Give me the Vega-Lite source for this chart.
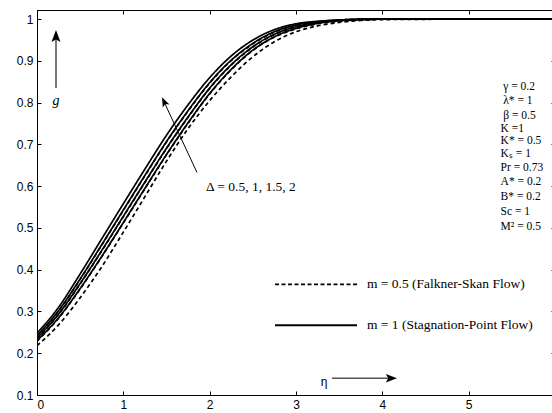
{
  "$schema": "https://vega.github.io/schema/vega-lite/v6.json",
  "width": 518,
  "height": 385,
  "autosize": {"type": "none"},
  "padding": {"left": 37, "top": 10, "right": 0, "bottom": 18},
  "background": "white",
  "config": {
    "view": {"stroke": "black", "strokeWidth": 1},
    "axis": {"domainColor": "black", "tickColor": "black", "labelColor": "black", "labelFont": "Liberation Sans", "labelFontSize": 12, "grid": false, "title": null, "tickSize": -4, "labelPadding": 8}
  },
  "datasets": {
    "curves": [
      {"eta":0,"g":0.230,"delta":"0.5","m":"1"},{"eta":0.25,"g":0.285,"delta":"0.5","m":"1"},{"eta":0.5,"g":0.355,"delta":"0.5","m":"1"},{"eta":0.75,"g":0.432,"delta":"0.5","m":"1"},{"eta":1,"g":0.513,"delta":"0.5","m":"1"},{"eta":1.25,"g":0.595,"delta":"0.5","m":"1"},{"eta":1.5,"g":0.676,"delta":"0.5","m":"1"},{"eta":1.75,"g":0.752,"delta":"0.5","m":"1"},{"eta":2,"g":0.822,"delta":"0.5","m":"1"},{"eta":2.25,"g":0.880,"delta":"0.5","m":"1"},{"eta":2.5,"g":0.926,"delta":"0.5","m":"1"},{"eta":2.75,"g":0.958,"delta":"0.5","m":"1"},{"eta":3,"g":0.978,"delta":"0.5","m":"1"},{"eta":3.25,"g":0.990,"delta":"0.5","m":"1"},{"eta":3.5,"g":0.996,"delta":"0.5","m":"1"},{"eta":3.75,"g":0.999,"delta":"0.5","m":"1"},{"eta":4,"g":1.0,"delta":"0.5","m":"1"},{"eta":5,"g":1.0,"delta":"0.5","m":"1"},{"eta":6,"g":1.0,"delta":"0.5","m":"1"},
      {"eta":0,"g":0.236,"delta":"1","m":"1"},{"eta":0.25,"g":0.294,"delta":"1","m":"1"},{"eta":0.5,"g":0.367,"delta":"1","m":"1"},{"eta":0.75,"g":0.446,"delta":"1","m":"1"},{"eta":1,"g":0.528,"delta":"1","m":"1"},{"eta":1.25,"g":0.610,"delta":"1","m":"1"},{"eta":1.5,"g":0.691,"delta":"1","m":"1"},{"eta":1.75,"g":0.766,"delta":"1","m":"1"},{"eta":2,"g":0.835,"delta":"1","m":"1"},{"eta":2.25,"g":0.891,"delta":"1","m":"1"},{"eta":2.5,"g":0.934,"delta":"1","m":"1"},{"eta":2.75,"g":0.964,"delta":"1","m":"1"},{"eta":3,"g":0.982,"delta":"1","m":"1"},{"eta":3.25,"g":0.992,"delta":"1","m":"1"},{"eta":3.5,"g":0.997,"delta":"1","m":"1"},{"eta":3.75,"g":0.999,"delta":"1","m":"1"},{"eta":4,"g":1.0,"delta":"1","m":"1"},{"eta":5,"g":1.0,"delta":"1","m":"1"},{"eta":6,"g":1.0,"delta":"1","m":"1"},
      {"eta":0,"g":0.242,"delta":"1.5","m":"1"},{"eta":0.25,"g":0.302,"delta":"1.5","m":"1"},{"eta":0.5,"g":0.378,"delta":"1.5","m":"1"},{"eta":0.75,"g":0.460,"delta":"1.5","m":"1"},{"eta":1,"g":0.543,"delta":"1.5","m":"1"},{"eta":1.25,"g":0.626,"delta":"1.5","m":"1"},{"eta":1.5,"g":0.707,"delta":"1.5","m":"1"},{"eta":1.75,"g":0.781,"delta":"1.5","m":"1"},{"eta":2,"g":0.848,"delta":"1.5","m":"1"},{"eta":2.25,"g":0.902,"delta":"1.5","m":"1"},{"eta":2.5,"g":0.942,"delta":"1.5","m":"1"},{"eta":2.75,"g":0.970,"delta":"1.5","m":"1"},{"eta":3,"g":0.986,"delta":"1.5","m":"1"},{"eta":3.25,"g":0.994,"delta":"1.5","m":"1"},{"eta":3.5,"g":0.998,"delta":"1.5","m":"1"},{"eta":3.75,"g":1.0,"delta":"1.5","m":"1"},{"eta":4,"g":1.0,"delta":"1.5","m":"1"},{"eta":5,"g":1.0,"delta":"1.5","m":"1"},{"eta":6,"g":1.0,"delta":"1.5","m":"1"},
      {"eta":0,"g":0.248,"delta":"2","m":"1"},{"eta":0.25,"g":0.310,"delta":"2","m":"1"},{"eta":0.5,"g":0.390,"delta":"2","m":"1"},{"eta":0.75,"g":0.474,"delta":"2","m":"1"},{"eta":1,"g":0.558,"delta":"2","m":"1"},{"eta":1.25,"g":0.641,"delta":"2","m":"1"},{"eta":1.5,"g":0.722,"delta":"2","m":"1"},{"eta":1.75,"g":0.795,"delta":"2","m":"1"},{"eta":2,"g":0.860,"delta":"2","m":"1"},{"eta":2.25,"g":0.912,"delta":"2","m":"1"},{"eta":2.5,"g":0.950,"delta":"2","m":"1"},{"eta":2.75,"g":0.975,"delta":"2","m":"1"},{"eta":3,"g":0.989,"delta":"2","m":"1"},{"eta":3.25,"g":0.995,"delta":"2","m":"1"},{"eta":3.5,"g":0.998,"delta":"2","m":"1"},{"eta":3.75,"g":1.0,"delta":"2","m":"1"},{"eta":4,"g":1.0,"delta":"2","m":"1"},{"eta":5,"g":1.0,"delta":"2","m":"1"},{"eta":6,"g":1.0,"delta":"2","m":"1"},
      {"eta":0,"g":0.218,"delta":"0.5","m":"0.5"},{"eta":0.25,"g":0.268,"delta":"0.5","m":"0.5"},{"eta":0.5,"g":0.333,"delta":"0.5","m":"0.5"},{"eta":0.75,"g":0.407,"delta":"0.5","m":"0.5"},{"eta":1,"g":0.490,"delta":"0.5","m":"0.5"},{"eta":1.25,"g":0.575,"delta":"0.5","m":"0.5"},{"eta":1.5,"g":0.660,"delta":"0.5","m":"0.5"},{"eta":1.75,"g":0.738,"delta":"0.5","m":"0.5"},{"eta":2,"g":0.805,"delta":"0.5","m":"0.5"},{"eta":2.25,"g":0.862,"delta":"0.5","m":"0.5"},{"eta":2.5,"g":0.910,"delta":"0.5","m":"0.5"},{"eta":2.75,"g":0.946,"delta":"0.5","m":"0.5"},{"eta":3,"g":0.970,"delta":"0.5","m":"0.5"},{"eta":3.25,"g":0.984,"delta":"0.5","m":"0.5"},{"eta":3.5,"g":0.992,"delta":"0.5","m":"0.5"},{"eta":3.75,"g":0.997,"delta":"0.5","m":"0.5"},{"eta":4,"g":0.999,"delta":"0.5","m":"0.5"},{"eta":5,"g":1.0,"delta":"0.5","m":"0.5"},{"eta":6,"g":1.0,"delta":"0.5","m":"0.5"},
      {"eta":0,"g":0.229,"delta":"1","m":"0.5"},{"eta":0.25,"g":0.284,"delta":"1","m":"0.5"},{"eta":0.5,"g":0.354,"delta":"1","m":"0.5"},{"eta":0.75,"g":0.431,"delta":"1","m":"0.5"},{"eta":1,"g":0.512,"delta":"1","m":"0.5"},{"eta":1.25,"g":0.594,"delta":"1","m":"0.5"},{"eta":1.5,"g":0.675,"delta":"1","m":"0.5"},{"eta":1.75,"g":0.751,"delta":"1","m":"0.5"},{"eta":2,"g":0.821,"delta":"1","m":"0.5"},{"eta":2.25,"g":0.879,"delta":"1","m":"0.5"},{"eta":2.5,"g":0.925,"delta":"1","m":"0.5"},{"eta":2.75,"g":0.957,"delta":"1","m":"0.5"},{"eta":3,"g":0.977,"delta":"1","m":"0.5"},{"eta":3.25,"g":0.989,"delta":"1","m":"0.5"},{"eta":3.5,"g":0.995,"delta":"1","m":"0.5"},{"eta":3.75,"g":0.998,"delta":"1","m":"0.5"},{"eta":4,"g":1.0,"delta":"1","m":"0.5"},{"eta":5,"g":1.0,"delta":"1","m":"0.5"},{"eta":6,"g":1.0,"delta":"1","m":"0.5"},
      {"eta":0,"g":0.235,"delta":"1.5","m":"0.5"},{"eta":0.25,"g":0.293,"delta":"1.5","m":"0.5"},{"eta":0.5,"g":0.366,"delta":"1.5","m":"0.5"},{"eta":0.75,"g":0.445,"delta":"1.5","m":"0.5"},{"eta":1,"g":0.527,"delta":"1.5","m":"0.5"},{"eta":1.25,"g":0.609,"delta":"1.5","m":"0.5"},{"eta":1.5,"g":0.690,"delta":"1.5","m":"0.5"},{"eta":1.75,"g":0.765,"delta":"1.5","m":"0.5"},{"eta":2,"g":0.834,"delta":"1.5","m":"0.5"},{"eta":2.25,"g":0.890,"delta":"1.5","m":"0.5"},{"eta":2.5,"g":0.933,"delta":"1.5","m":"0.5"},{"eta":2.75,"g":0.963,"delta":"1.5","m":"0.5"},{"eta":3,"g":0.981,"delta":"1.5","m":"0.5"},{"eta":3.25,"g":0.991,"delta":"1.5","m":"0.5"},{"eta":3.5,"g":0.996,"delta":"1.5","m":"0.5"},{"eta":3.75,"g":0.999,"delta":"1.5","m":"0.5"},{"eta":4,"g":1.0,"delta":"1.5","m":"0.5"},{"eta":5,"g":1.0,"delta":"1.5","m":"0.5"},{"eta":6,"g":1.0,"delta":"1.5","m":"0.5"},
      {"eta":0,"g":0.241,"delta":"2","m":"0.5"},{"eta":0.25,"g":0.301,"delta":"2","m":"0.5"},{"eta":0.5,"g":0.377,"delta":"2","m":"0.5"},{"eta":0.75,"g":0.459,"delta":"2","m":"0.5"},{"eta":1,"g":0.542,"delta":"2","m":"0.5"},{"eta":1.25,"g":0.625,"delta":"2","m":"0.5"},{"eta":1.5,"g":0.706,"delta":"2","m":"0.5"},{"eta":1.75,"g":0.780,"delta":"2","m":"0.5"},{"eta":2,"g":0.847,"delta":"2","m":"0.5"},{"eta":2.25,"g":0.901,"delta":"2","m":"0.5"},{"eta":2.5,"g":0.941,"delta":"2","m":"0.5"},{"eta":2.75,"g":0.969,"delta":"2","m":"0.5"},{"eta":3,"g":0.985,"delta":"2","m":"0.5"},{"eta":3.25,"g":0.993,"delta":"2","m":"0.5"},{"eta":3.5,"g":0.997,"delta":"2","m":"0.5"},{"eta":3.75,"g":0.999,"delta":"2","m":"0.5"},{"eta":4,"g":1.0,"delta":"2","m":"0.5"},{"eta":5,"g":1.0,"delta":"2","m":"0.5"},{"eta":6,"g":1.0,"delta":"2","m":"0.5"}
    ],
    "params": [
      {"label":"γ = 0.2","x":5.40,"y":0.838},
      {"label":"λ* = 1","x":5.40,"y":0.803},
      {"label":"β = 0.5","x":5.40,"y":0.768},
      {"label":"K =1","x":5.37,"y":0.737},
      {"label":"K* = 0.5","x":5.37,"y":0.708},
      {"label":"Kₛ = 1","x":5.37,"y":0.676},
      {"label":"Pr = 0.73","x":5.37,"y":0.643},
      {"label":"A* = 0.2","x":5.37,"y":0.609},
      {"label":"B* = 0.2","x":5.37,"y":0.573},
      {"label":"Sc = 1","x":5.37,"y":0.538},
      {"label":"M² = 0.5","x":5.37,"y":0.502}
    ]
  },
  "resolve": {"axis": {"x": "independent", "y": "independent"}},
  "layer": [
    {
      "data": {"name": "curves"},
      "mark": {"type": "line", "interpolate": "monotone", "color": "black", "strokeWidth": 1.7, "clip": true},
      "encoding": {
        "x": {"field": "eta", "type": "quantitative", "scale": {"domain": [0, 6], "nice": false, "zero": false},
              "axis": {"orient": "bottom", "values": [0,1,2,3,4,5,6], "format": "d", "labelExpr": "datum.value == 6 ? '' : datum.label"}},
        "y": {"field": "g", "type": "quantitative", "scale": {"domain": [0.1, 1.022], "nice": false, "zero": false},
              "axis": {"orient": "left", "values": [0.1,0.2,0.3,0.4,0.5,0.6,0.7,0.8,0.9,1], "format": ".1~f"}},
        "detail": {"field": "delta"},
        "strokeDash": {"field": "m", "type": "nominal", "scale": {"domain": ["0.5","1"], "range": [[4,3],[1,0]]}, "legend": null},
        "order": {"field": "eta", "type": "quantitative"}
      }
    },
    {
      "data": {"values": [{"x": 0.22, "y": 0.835, "x2": 0.22, "y2": 0.955}]},
      "mark": {"type": "rule", "color": "#7a7a7a", "strokeWidth": 2},
      "encoding": {
        "x": {"field": "x", "type": "quantitative", "axis": {"orient": "top", "labels": false, "values": [0,1,2,3,4,5,6]}},
        "y": {"field": "y", "type": "quantitative", "axis": {"orient": "right", "labels": false, "values": [0.1,0.2,0.3,0.4,0.5,0.6,0.7,0.8,0.9,1]}},
        "x2": {"field": "x2"}, "y2": {"field": "y2"}
      }
    },
    {
      "data": {"values": [{"x": 0.22, "y": 0.956}]},
      "mark": {"type": "point", "shape": "M0,-1L0.6,0.6L0,0.25L-0.6,0.6Z", "filled": true, "color": "black", "size": 225, "opacity": 1},
      "encoding": {"x": {"field": "x", "type": "quantitative", "axis": null}, "y": {"field": "y", "type": "quantitative", "axis": null}}
    },
    {
      "data": {"values": [{"x": 1.853, "y": 0.633, "x2": 1.483, "y2": 0.797}]},
      "mark": {"type": "rule", "color": "black", "strokeWidth": 1},
      "encoding": {"x": {"field": "x", "type": "quantitative", "axis": null}, "y": {"field": "y", "type": "quantitative", "axis": null}, "x2": {"field": "x2"}, "y2": {"field": "y2"}}
    },
    {
      "data": {"values": [{"x": 1.478, "y": 0.800}]},
      "mark": {"type": "point", "shape": "M0,-1L0.6,0.6L0,0.25L-0.6,0.6Z", "filled": true, "color": "black", "size": 150, "angle": -25, "opacity": 1},
      "encoding": {"x": {"field": "x", "type": "quantitative", "axis": null}, "y": {"field": "y", "type": "quantitative", "axis": null}}
    },
    {
      "data": {"values": [{"x": 3.417, "y": 0.140, "x2": 4.066, "y2": 0.140}]},
      "mark": {"type": "rule", "color": "#555555", "strokeWidth": 1.5},
      "encoding": {"x": {"field": "x", "type": "quantitative", "axis": null}, "y": {"field": "y", "type": "quantitative", "axis": null}, "x2": {"field": "x2"}, "y2": {"field": "y2"}}
    },
    {
      "data": {"values": [{"x": 4.089, "y": 0.140}]},
      "mark": {"type": "point", "shape": "M0,-1L0.6,0.6L0,0.25L-0.6,0.6Z", "filled": true, "color": "black", "size": 196, "angle": 90, "opacity": 1},
      "encoding": {"x": {"field": "x", "type": "quantitative", "axis": null}, "y": {"field": "y", "type": "quantitative", "axis": null}}
    },
    {
      "data": {"values": [{"x": 2.757, "y": 0.365, "x2": 3.707, "y2": 0.365}]},
      "mark": {"type": "rule", "color": "black", "strokeWidth": 1.6, "strokeDash": [4, 2.5]},
      "encoding": {"x": {"field": "x", "type": "quantitative", "axis": null}, "y": {"field": "y", "type": "quantitative", "axis": null}, "x2": {"field": "x2"}, "y2": {"field": "y2"}}
    },
    {
      "data": {"values": [{"x": 2.757, "y": 0.267, "x2": 3.707, "y2": 0.267}]},
      "mark": {"type": "rule", "color": "black", "strokeWidth": 1.8},
      "encoding": {"x": {"field": "x", "type": "quantitative", "axis": null}, "y": {"field": "y", "type": "quantitative", "axis": null}, "x2": {"field": "x2"}, "y2": {"field": "y2"}}
    },
    {
      "data": {"values": [
        {"label": "m = 0.5 (Falkner-Skan Flow)", "x": 3.822, "y": 0.365},
        {"label": "m = 1 (Stagnation-Point Flow)", "x": 3.822, "y": 0.267},
        {"label": "Δ = 0.5, 1, 1.5, 2", "x": 1.957, "y": 0.597}
      ]},
      "mark": {"type": "text", "align": "left", "baseline": "middle", "font": "Liberation Serif", "fontSize": 13.5, "color": "black"},
      "encoding": {"x": {"field": "x", "type": "quantitative", "axis": null}, "y": {"field": "y", "type": "quantitative", "axis": null}, "text": {"field": "label"}}
    },
    {
      "data": {"name": "params"},
      "mark": {"type": "text", "align": "left", "baseline": "middle", "font": "Liberation Serif", "fontSize": 11.5, "color": "black"},
      "encoding": {"x": {"field": "x", "type": "quantitative", "axis": null}, "y": {"field": "y", "type": "quantitative", "axis": null}, "text": {"field": "label"}}
    },
    {
      "data": {"values": [{"label": "g", "x": 0.22, "y": 0.803}]},
      "mark": {"type": "text", "align": "center", "baseline": "middle", "font": "Liberation Serif", "fontStyle": "italic", "fontSize": 14, "color": "black"},
      "encoding": {"x": {"field": "x", "type": "quantitative", "axis": null}, "y": {"field": "y", "type": "quantitative", "axis": null}, "text": {"field": "label"}}
    },
    {
      "data": {"values": [{"label": "η", "x": 3.324, "y": 0.132}]},
      "mark": {"type": "text", "align": "center", "baseline": "middle", "font": "Liberation Sans", "fontSize": 12, "color": "black"},
      "encoding": {"x": {"field": "x", "type": "quantitative", "axis": null}, "y": {"field": "y", "type": "quantitative", "axis": null}, "text": {"field": "label"}}
    }
  ]
}
